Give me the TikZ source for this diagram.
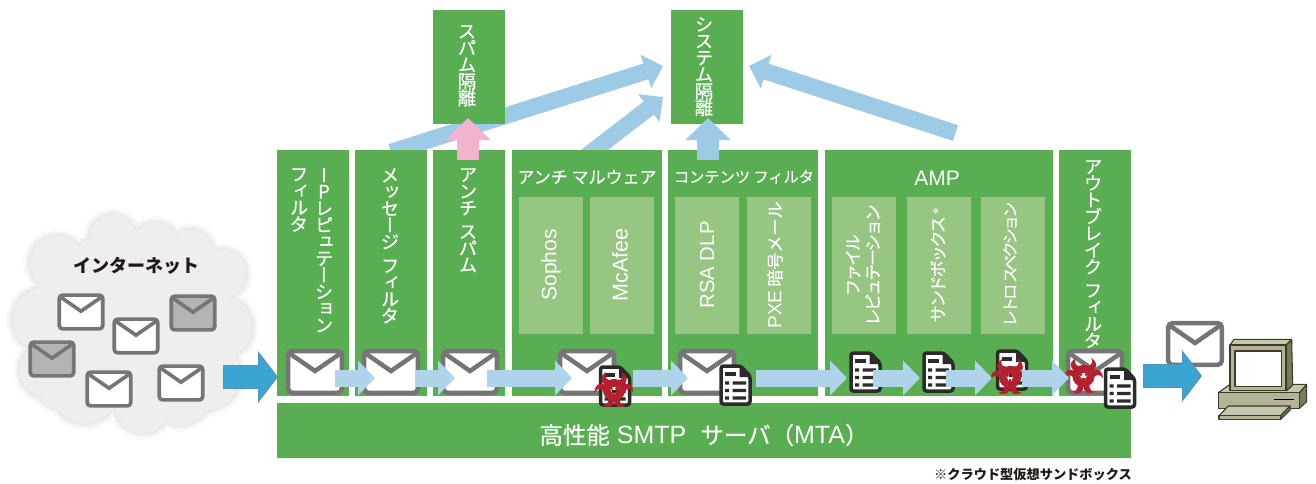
\documentclass[tikz,border=0pt]{standalone}
\usepackage{fontspec}
\usetikzlibrary{arrows.meta,calc}
\setmainfont[FakeBold=.4,BoldFeatures={FakeBold=0}]{Noto Sans CJK JP}
\newfontfamily\lat{Liberation Sans}
\newfontfamily\jpv[RawFeature=+vert,FakeBold=.4]{Noto Sans CJK JP}
\newfontfamily\jpna[LetterSpace=-12,FakeBold=.4]{Noto Sans CJK JP}
\newfontfamily\jpnb[LetterSpace=-17,FakeBold=.4]{Noto Sans CJK JP}
\definecolor{boxgreen}{HTML}{58AE50}
\definecolor{innergreen}{HTML}{97C682}
\definecolor{cloudgray}{HTML}{EEEEEE}
\definecolor{mailgray}{HTML}{757575}
\definecolor{mailfill}{HTML}{B3B3B3}
\definecolor{flowblue}{HTML}{AED3EA}
\definecolor{quarblue}{HTML}{9DCAE4}
\definecolor{spampink}{HTML}{F2B3CF}
\definecolor{entryblue}{HTML}{3BA5D1}
\definecolor{entryedge}{HTML}{5B8DBF}
\definecolor{docdark}{HTML}{2B2B2B}
\definecolor{biored}{HTML}{B4202E}
\definecolor{inkdark}{HTML}{231815}
\definecolor{pcface}{HTML}{B5B296}
\definecolor{pclight}{HTML}{C6C5AE}
\definecolor{pcside}{HTML}{7C7B5B}
\definecolor{pcline}{HTML}{3C3C28}
\makeatletter
\let\tgap\relax
\def\tgapitem{\tgap}
\newcommand\tate[2][16.7pt]{\vbox{\jpv\baselineskip=#1\lineskip=0pt\lineskiplimit=-100pt
  \@tfor\tateitem:=#2\do{\ifx\tateitem\tgapitem\vskip 7pt\else\hbox to 17pt{\hss\tateitem\hss}\fi}}}
\makeatother
\newcommand\fs[1]{\fontsize{#1}{#1}\selectfont}
\newcommand\cloudpath[1]{(113,239) circle (24+#1) (155,248) circle (25+#1) (190,254) circle (24+#1)
  (222,274) circle (24+#1) (222,327) circle (30+#1) (205,375) circle (35+#1) (180,395) circle (30+#1)
  (143,405) circle (28+#1) (85,390) circle (33+#1) (48,370) circle (28+#1) (65,380) circle (30+#1)
  (45,320) circle (32+#1) (57,263) circle (27+#1) (130,320) circle (90+#1)}
\newcommand\mailicon[4]{\begin{scope}[shift={(#1,#2)},scale=#3]
  \draw[mailgray,fill=#4,line width=#3*4.5pt,rounded corners=#3*4pt] (-26.8,-20.8) rectangle (26.8,20.8);
  \draw[mailgray,line width=#3*4.5pt,line join=miter] (-26,-19) -- (0,-1) -- (26,-19);
  \end{scope}}
\newcommand\docicon[2]{\begin{scope}[shift={(#1,#2)}]
  \draw[docdark,fill=white,line width=3.5pt,rounded corners=2.5pt] (-14.5,-19) -- (5,-19) -- (14.5,-9) -- (14.5,19) -- (-14.5,19) -- cycle;
  \fill[docdark] (4,-19) -- (14.5,-8) -- (4,-8) -- cycle;
  \fill[docdark] (-10.5,-13) rectangle (0,-9.5);
  \foreach \r in {-2,5.5,13}{\fill[docdark] (-10.5,\r-1.7) rectangle (-6.5,\r+1.7) (-3,\r-1.7) rectangle (10.5,\r+1.7);}
  \end{scope}}
\newcommand\biohazard[2]{\begin{scope}[shift={(#1,#2)},scale=18.5]
  \foreach \a in {0,120,240}{\begin{scope}[rotate=\a]
   \fill[biored] (-.42,-.98) .. controls (-.95,-.62) and (-.62,-.16) .. (0,-.16) .. controls (.62,-.16) and (.95,-.62) .. (.42,-.98) .. controls (.6,-.68) and (.32,-.46) .. (0,-.46) .. controls (-.32,-.46) and (-.6,-.68) .. (-.42,-.98) -- cycle;
   \fill[biored] (-.07,.1) rectangle (.07,.42);
  \end{scope}}
  \draw[biored,line width=3pt] (0,0) circle (.52);
  \end{scope}}
\tikzset{
  panel/.style={fill=boxgreen,draw=none,inner sep=0pt,minimum height=246pt},
  inner panel/.style={fill=innergreen,draw=none,inner sep=0pt,minimum width=64pt,minimum height=137pt},
  whitetext/.style={text=white,inner sep=0pt},
  rottext/.style={text=white,inner sep=0pt,rotate=90,align=center},
  flow/.style={flowblue,line width=17pt,-{Triangle[length=17pt,width=34pt]}},
  quar/.style={quarblue,line width=16.5pt,-{Triangle[length=18pt,width=34pt]}},
  upquar/.style={line width=22pt,-{Triangle[length=22pt,width=44pt]}},
  bigedge/.style={entryedge,line width=24pt,-{Triangle[length=20pt,width=51pt]}},
  bigfill/.style={entryblue,line width=22pt,shorten <=1pt,shorten >=1.5pt,-{Triangle[length=18pt,width=47pt]}}
}
\begin{document}
\begin{tikzpicture}[x=1pt,y=-1pt]
\useasboundingbox (0,0) rectangle (1316,484);
% cloud
\fill[black,opacity=.02] \cloudpath{7};
\fill[black,opacity=.03] \cloudpath{4.5};
\fill[black,opacity=.04] \cloudpath{2};
\fill[cloudgray] \cloudpath{0};
\node[text=inkdark,inner sep=0pt,font=\fs{18}\bfseries] (net) at (136,266) {インターネット};
\mailicon{81}{312}{.81}{white}
\mailicon{136}{336}{.81}{white}
\mailicon{193}{313}{.81}{mailfill}
\mailicon{52}{359}{.81}{mailfill}
\mailicon{109}{389}{.81}{white}
\mailicon{181}{383}{.81}{white}
% quarantine arrows behind the panels
\coordinate (qa0) at (391,152); \coordinate (qa1) at (663,66);
\coordinate (qb0) at (575,165); \coordinate (qb1) at (663,97);
\coordinate (qc0) at (955.5,133); \coordinate (qc1) at (749,66);
\draw[quar] (qa0) -- (qa1);
\draw[quar] (qb0) -- (qb1);
% panels
\node[panel,minimum width=72pt] (c1) at (313,273) {};
\node[panel,minimum width=72pt] (c2) at (391,273) {};
\node[panel,minimum width=72pt] (c3) at (469,273) {};
\node[panel,minimum width=150pt] (c4) at (587,273) {};
\node[panel,minimum width=150pt] (c5) at (743,273) {};
\node[panel,minimum width=228pt] (c6) at (939,273) {};
\node[panel,minimum width=72pt] (c7) at (1095,273) {};
\node[fill=boxgreen,minimum width=854pt,minimum height=55pt,inner sep=0pt] (mta) at (704,430.5) {};
\node[fill=boxgreen,minimum width=72pt,minimum height=114pt,inner sep=0pt] (spam) at (469,67) {};
\node[fill=boxgreen,minimum width=72pt,minimum height=114pt,inner sep=0pt] (sys) at (707,67) {};
\draw[quar] (qc0) -- (qc1);
\foreach \n/\x in {i1/551,i2/622,i3/707,i4/779,i5/864,i6/939,i7/1013}{\node[inner panel] (\n) at (\x,265.5) {};}
% up arrows
\coordinate (up0) at (468,160); \coordinate (up1) at (468,118);
\coordinate (uq0) at (708,160); \coordinate (uq1) at (708,118);
\draw[upquar,spampink] (up0) -- (up1);
\draw[upquar,quarblue] (uq0) -- (uq1);
% vertical labels
\node[whitetext,anchor=north,font=\fs{18.5}] (t1a) at (324,168) {\tate{IPレピュテーション}};
\node[whitetext,anchor=north,font=\fs{18.5}] (t1b) at (299,168) {\tate{フィルタ}};
\node[whitetext,anchor=north,font=\fs{18.5}] (t2) at (390,168) {\tate{メッセージ\tgap フィルタ}};
\node[whitetext,anchor=north,font=\fs{18.5}] (t3) at (468,168) {\tate{アンチ\tgap スパム}};
\node[whitetext,anchor=north,font=\fs{18.5}] (t7) at (1093,160) {\tate{アウトブレイク\tgap フィルタ}};
\node[whitetext,anchor=north,font=\fs{18.5}] (tspam) at (467,25) {\tate{スパム隔離}};
\node[whitetext,anchor=north,font=\fs{18.5}] (tsys) at (704,17) {\tate{システム隔離}};
% horizontal labels
\node[whitetext,font=\fs{17}] (t4) at (587,177) {アンチ マルウェア};
\node[whitetext,font=\fs{15.2}] (t5) at (744,177) {コンテンツ フィルタ};
\node[whitetext,font=\fs{21}\lat] (t6) at (937,178) {AMP};
\node[whitetext,font=\fs{23.5}] (tmta) at (704,435) {高性能\hspace{7pt}{\lat\fs{25}SMTP}\hspace{14pt}サーバ（{\lat\fs{25}MTA}）};
\node[text=inkdark,inner sep=0pt,anchor=east,font=\fs{13.2}\bfseries] (note) at (1132,475) {※クラウド型仮想サンドボックス};
% rotated labels
\node[rottext,font=\fs{21}\lat] (r1) at (551,265) {Sophos};
\node[rottext,font=\fs{21.5}\lat] (r2) at (620,265) {McAfee};
\node[rottext,font=\fs{20.4}\lat] (r3) at (707,265) {RSA DLP};
\node[rottext,font=\fs{17}] (r4) at (775,265) {{\lat\fs{19}PXE} 暗号メール};
\node[rottext,font=\fontsize{17}{20}\selectfont\jpna] (r5) at (863,265) {ファイル\\レピュテーション};
\node[rottext,font=\fontsize{17}{20}\selectfont\jpna] (r6) at (938,265) {サンドボックス {\lat *}};
\node[rottext,font=\fontsize{16}{20}\selectfont\jpnb] (r7) at (1010,264) {レトロ スペクション};
% mails and documents
\mailicon{315}{372}{1}{white}
\mailicon{391}{372}{1}{white}
\mailicon{470}{372}{1}{white}
\mailicon{587}{372}{1}{white}
\mailicon{707}{372}{1}{white}
\mailicon{1095}{372}{1}{white}
\mailicon{1195}{344}{1}{white}
\docicon{615}{386}
\biohazard{614}{390}
\docicon{735.5}{385}
\docicon{865.5}{372}
\docicon{938.5}{372}
\docicon{1012}{370}
\biohazard{1010}{377}
\biohazard{1083.5}{376}
\docicon{1120}{388}
% flow arrows
\coordinate (f0) at (335,378); \coordinate (f1) at (375,378);
\coordinate (f2) at (415,378); \coordinate (f3) at (455,378);
\coordinate (f4) at (487,378); \coordinate (f5) at (572,378);
\coordinate (f6) at (633,378); \coordinate (f7) at (688,378);
\coordinate (f8) at (756,378); \coordinate (f9) at (847,378);
\coordinate (f10) at (873,378); \coordinate (f11) at (920,378);
\coordinate (f12) at (946,378); \coordinate (f13) at (992,378);
\coordinate (f14) at (1022,378); \coordinate (f15) at (1069,378);
\draw[flow] (f0) -- (f1);
\draw[flow] (f2) -- (f3);
\draw[flow] (f4) -- (f5);
\draw[flow] (f6) -- (f7);
\draw[flow] (f8) -- (f9);
\draw[flow] (f10) -- (f11);
\draw[flow] (f12) -- (f13);
\draw[flow] (f14) -- (f15);
% entry and exit arrows
\coordinate (en0) at (223,377); \coordinate (en1) at (278,377);
\coordinate (ex0) at (1143,376); \coordinate (ex1) at (1202,376);
\draw[bigedge] (en0) -- (en1);
\draw[bigfill] (en0) -- (en1);
\draw[bigedge] (ex0) -- (ex1);
\draw[bigfill] (ex0) -- (ex1);
% computer
\begin{scope}[shift={(1040,300)},scale=1/3,draw=pcline,line width=1.1pt,line join=round]
  \filldraw[fill=pcside] (778,278) -- (800,255) -- (800,305) -- (778,325) -- cycle;
  \filldraw[fill=pclight] (535,278) -- (570,253) -- (800,253) -- (778,278) -- cycle;
  \filldraw[fill=pcface] (535,278) rectangle (778,325);
  \draw[black,line width=1.4pt] (702,298) -- (762,298);
  \filldraw[fill=pcside] (738,135) -- (755,118) -- (758,255) -- (740,272) -- cycle;
  \filldraw[fill=pclight] (570,135) -- (582,118) -- (755,118) -- (738,135) -- cycle;
  \filldraw[fill=pcface] (570,135) rectangle (738,272);
  \filldraw[fill=white,line width=1.4pt] (585,153) rectangle (725,260);
  \filldraw[fill=pclight] (565,318) -- (750,318) -- (722,347) -- (537,347) -- cycle;
  \filldraw[fill=pcface] (537,347) rectangle (722,358);
  \filldraw[fill=pcside] (722,347) -- (750,318) -- (750,330) -- (722,358) -- cycle;
\end{scope}
\end{tikzpicture}
\end{document}
